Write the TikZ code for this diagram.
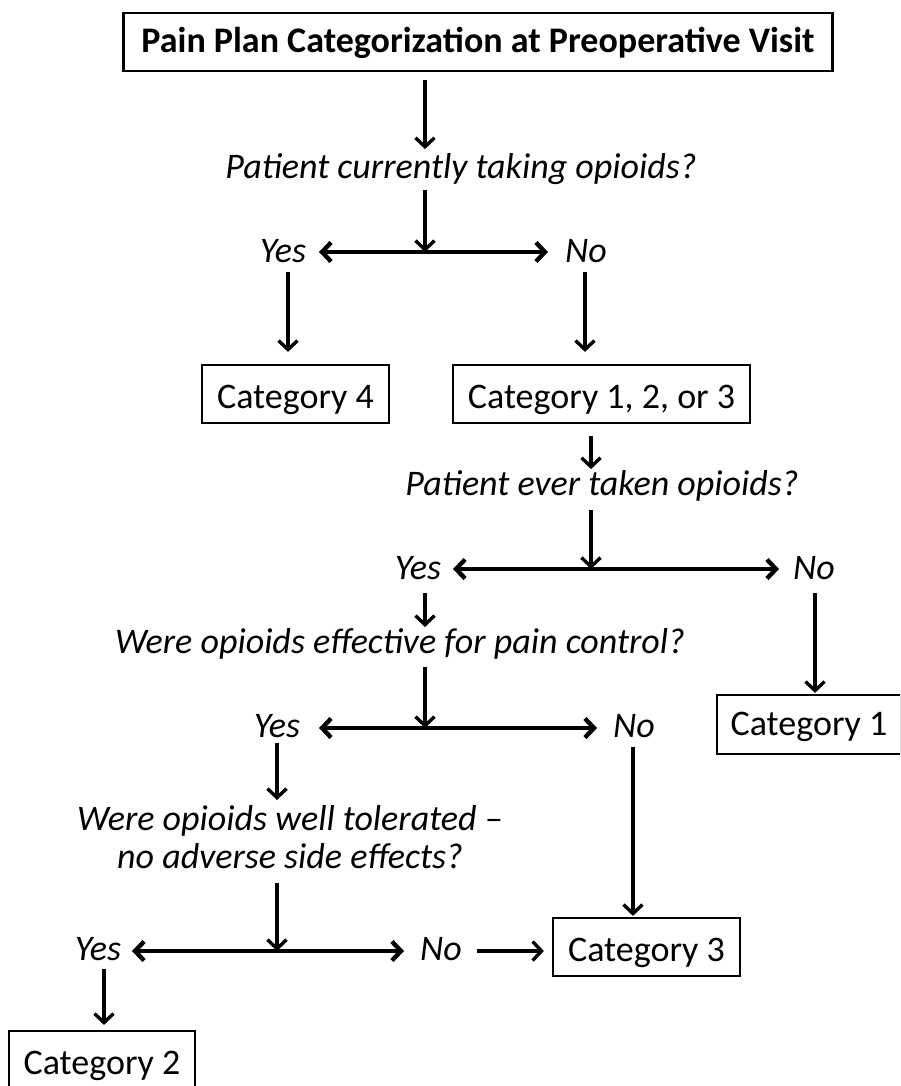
\documentclass[tikz,border=0pt]{standalone}
\usepackage{fontspec}
\setmainfont{Carlito}
\usetikzlibrary{arrows.meta}
\begin{document}
\begin{tikzpicture}[x=1pt,y=-1pt,
  box/.style={draw,line width=2.2pt,minimum height=58pt,inner sep=0pt,text height=28pt,text depth=0pt,font=\fontsize{36}{40}\selectfont},
  qtext/.style={inner sep=2pt,font=\fontsize{36}{38}\selectfont\itshape,align=center},
  yn/.style={inner sep=2pt,font=\fontsize{36}{40}\selectfont\itshape},
  varr/.style={line width=3.4pt,-{Straight Barb[length=9pt,width=19pt]}},
  harr/.style={line width=4.4pt,{Straight Barb[length=9pt,width=19pt]}-{Straight Barb[length=9pt,width=19pt]}}
]
\clip (0,0) rectangle (900,1086);
\fill[white] (0,0) rectangle (900,1086);

% nodes
\node[box,minimum width=709pt,text height=22pt,font=\fontsize{36}{40}\selectfont\bfseries] (title) at (478,42) {Pain Plan Categorization at Preoperative Visit};
\node[qtext] (q1) at (461,169) {Patient currently taking opioids?};
\node[yn] (yes1) at (283,251) {Yes};
\node[yn] (no1) at (586,251) {No};
\node[box,minimum width=187pt] (cat4) at (295.5,394) {Category 4};
\node[box,minimum width=297pt] (cat123) at (601.5,394) {Category 1, 2, or 3};
\node[qtext] (q2) at (602,486) {Patient ever taken opioids?};
\node[yn] (yes2) at (418,568) {Yes};
\node[yn] (no2) at (814,568) {No};
\node[box,minimum width=184pt,minimum height=59pt,text height=22pt] (cat1) at (809,724.5) {Category 1};
\node[qtext] (q3) at (400,644) {Were opioids effective for pain control?};
\node[yn] (yes3) at (277,726) {Yes};
\node[yn] (no3) at (634,726) {No};
\node[qtext] (q4) at (290,837) {Were opioids well tolerated --\\no adverse side effects?};
\node[yn] (yes4) at (98,949) {Yes};
\node[yn] (no4) at (441,949) {No};
\node[box,minimum width=187pt] (cat3) at (646.5,947) {Category 3};
\node[box,minimum width=186pt] (cat2) at (102,1060) {Category 2};

% junction coordinates
\coordinate (j1) at (425,252);
\coordinate (j2) at (591,569);
\coordinate (j3) at (425,728);
\coordinate (j4) at (277,951);

% connectors
\draw[varr] (title.south -| j1) ++(0,8) -- ++(0,69);
\draw[varr] (j1) ++(0,-62) -- (j1);
\draw[harr] (j1) ++(-106,0) -- ++(229,0);
\draw[varr] (cat4.north) ++(-7.5,-92) -- ++(0,80);
\draw[varr] (cat123.north) ++(-16.5,-92) -- ++(0,80);

\draw[varr] (cat123.south) ++(-10.5,12) -- ++(0,33);
\draw[varr] (j2) ++(0,-59) -- (j2);
\draw[harr] (j2) ++(-138,0) -- ++(326,0);
\draw[varr] (yes2) ++(7,25) -- ++(0,34);
\draw[varr] (cat1.north) ++(6,-101) -- ++(0,100);

\draw[varr] (j3) ++(0,-61) -- (j3);
\draw[harr] (j3) ++(-106,0) -- ++(278,0);
\draw[varr] (yes3) ++(0,17) -- ++(0,57);
\draw[varr] (cat3.north) ++(-13.5,-170) -- ++(0,169);

\draw[varr] (j4) ++(0,-68) -- (j4);
\draw[harr] (j4) ++(-145,0) -- ++(272,0);
\draw[varr] (cat3.west) ++(-75,4) -- ++(67,0);
\draw[varr] (cat2.north) ++(2,-61) -- ++(0,56);
\end{tikzpicture}
\end{document}
